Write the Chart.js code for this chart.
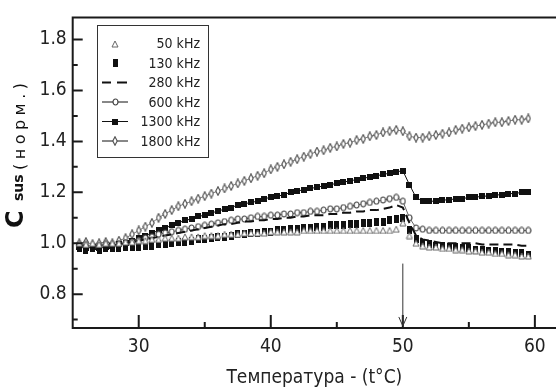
<!DOCTYPE html>
<html>
<head>
<meta charset="utf-8">
<script src="https://cdn.jsdelivr.net/npm/chart.js@4.4.1/dist/chart.umd.min.js"></script>
<style>
  html, body { margin: 0; padding: 0; background: #fff; }
  #wrap { position: relative; width: 556px; height: 389px; }
</style>
</head>
<body>
<div id="wrap"><canvas id="susChart"></canvas></div>
<script>
// temperature points, °C
const temps = [
  25.5, 26, 26.5, 27, 27.5, 28, 28.5, 29, 29.5, 30,
  30.5, 31, 31.5, 32, 32.5, 33, 33.5, 34, 34.5, 35,
  35.5, 36, 36.5, 37, 37.5, 38, 38.5, 39, 39.5, 40,
  40.5, 41, 41.5, 42, 42.5, 43, 43.5, 44, 44.5, 45,
  45.5, 46, 46.5, 47, 47.5, 48, 48.5, 49, 49.5, 50,
  50.5, 51, 51.5, 52, 52.5, 53, 53.5, 54, 54.5, 55,
  55.5, 56, 56.5, 57, 57.5, 58, 58.5, 59, 59.5
];

// normalised C_sus for each measuring frequency
const c50 = [
  1.00, 0.995, 1.00, 0.995, 1.00, 1.00, 1.00, 1.005, 1.005, 1.01,
  1.01, 1.015, 1.015, 1.02, 1.02, 1.02, 1.025, 1.025, 1.025, 1.03,
  1.03, 1.03, 1.035, 1.035, 1.035, 1.04, 1.04, 1.04, 1.04, 1.045,
  1.045, 1.045, 1.045, 1.045, 1.05, 1.05, 1.05, 1.05, 1.05, 1.05,
  1.05, 1.05, 1.05, 1.05, 1.05, 1.05, 1.05, 1.05, 1.055, 1.08,
  1.03, 1.00, 0.99, 0.985, 0.985, 0.98, 0.98, 0.975, 0.975, 0.97,
  0.97, 0.965, 0.965, 0.96, 0.96, 0.955, 0.955, 0.95, 0.95
];
const c130 = [
  0.98, 0.975, 0.98, 0.975, 0.98, 0.98, 0.98, 0.985, 0.985, 0.985,
  0.99, 0.99, 0.995, 0.995, 1.00, 1.005, 1.005, 1.01, 1.015, 1.015,
  1.02, 1.025, 1.025, 1.03, 1.035, 1.035, 1.04, 1.04, 1.045, 1.045,
  1.05, 1.05, 1.055, 1.055, 1.06, 1.06, 1.065, 1.065, 1.07, 1.07,
  1.07, 1.075, 1.075, 1.08, 1.08, 1.085, 1.085, 1.09, 1.095, 1.10,
  1.05, 1.015, 1.00, 0.995, 0.99, 0.99, 0.985, 0.985, 0.98, 0.98,
  0.975, 0.975, 0.97, 0.97, 0.965, 0.965, 0.96, 0.96, 0.955
];
const c280 = [
  0.99, 0.99, 0.99, 0.99, 0.99, 0.99, 0.995, 1.00, 1.005, 1.01,
  1.015, 1.02, 1.025, 1.03, 1.035, 1.04, 1.045, 1.05, 1.055, 1.06,
  1.065, 1.07, 1.075, 1.075, 1.08, 1.085, 1.085, 1.09, 1.09, 1.095,
  1.095, 1.10, 1.10, 1.105, 1.105, 1.11, 1.11, 1.11, 1.115, 1.115,
  1.12, 1.12, 1.125, 1.125, 1.13, 1.13, 1.135, 1.14, 1.15, 1.14,
  1.08, 1.03, 1.015, 1.01, 1.005, 1.00, 1.00, 1.00, 1.00, 1.00,
  1.00, 0.995, 0.995, 0.995, 0.995, 0.995, 0.995, 0.99, 0.99
];
const c600 = [
  0.99, 0.995, 0.985, 0.99, 0.995, 0.99, 0.995, 1.00, 1.005, 1.01,
  1.02, 1.025, 1.035, 1.04, 1.045, 1.05, 1.055, 1.06, 1.065, 1.07,
  1.075, 1.08, 1.085, 1.09, 1.095, 1.095, 1.10, 1.105, 1.105, 1.11,
  1.11, 1.115, 1.115, 1.12, 1.12, 1.125, 1.125, 1.13, 1.135, 1.135,
  1.14, 1.145, 1.15, 1.155, 1.16, 1.165, 1.17, 1.175, 1.18, 1.165,
  1.10, 1.06, 1.055, 1.05, 1.05, 1.05, 1.05, 1.05, 1.05, 1.05,
  1.05, 1.05, 1.05, 1.05, 1.05, 1.05, 1.05, 1.05, 1.05
];
const c1300 = [
  0.985, 0.98, 0.985, 0.98, 0.985, 0.99, 0.995, 1.00, 1.01, 1.02,
  1.03, 1.04, 1.05, 1.06, 1.07, 1.08, 1.09, 1.095, 1.105, 1.11,
  1.12, 1.125, 1.135, 1.14, 1.15, 1.155, 1.16, 1.165, 1.175, 1.18,
  1.185, 1.19, 1.20, 1.205, 1.21, 1.215, 1.22, 1.225, 1.23, 1.235,
  1.24, 1.245, 1.25, 1.255, 1.26, 1.265, 1.27, 1.275, 1.28, 1.285,
  1.23, 1.18, 1.165, 1.165, 1.165, 1.17, 1.17, 1.175, 1.175, 1.18,
  1.18, 1.185, 1.185, 1.19, 1.19, 1.195, 1.195, 1.20, 1.20
];
const c1800 = [
  1.00, 1.005, 0.995, 1.00, 1.005, 1.00, 1.01, 1.02, 1.035, 1.05,
  1.065, 1.08, 1.10, 1.115, 1.13, 1.145, 1.155, 1.165, 1.175, 1.185,
  1.195, 1.205, 1.215, 1.225, 1.235, 1.245, 1.255, 1.265, 1.275, 1.29,
  1.30, 1.31, 1.32, 1.33, 1.34, 1.35, 1.36, 1.365, 1.375, 1.38,
  1.39, 1.395, 1.405, 1.41, 1.42, 1.425, 1.435, 1.44, 1.445, 1.44,
  1.42, 1.415, 1.415, 1.42, 1.425, 1.43, 1.435, 1.445, 1.45, 1.455,
  1.46, 1.465, 1.47, 1.475, 1.475, 1.48, 1.485, 1.485, 1.49
];

const legendLabels = ['50 kHz', '130 kHz', '280 kHz', '600 kHz', '1300 kHz', '1800 kHz'];
const xTicks = [30, 40, 50, 60];
const xMinor = [35, 45, 55];
const yTicks = [0.8, 1.0, 1.2, 1.4, 1.6, 1.8];
const yMinor = [0.7, 0.9, 1.1, 1.3, 1.5, 1.7];
// transition marker
const arrowT = 50;
const arrowTop = 0.92;
const arrowTip = 0.675;

const FONT = "'DejaVu Sans Condensed', 'DejaVu Sans', sans-serif";

// small canvases used as point symbols
function marker(w, h, draw) {
  const c = document.createElement('canvas');
  c.width = w;
  c.height = h;
  draw(c.getContext('2d'), w, h);
  return c;
}
const triOpen = marker(8, 8, (g, w, h) => {
  g.beginPath();
  g.moveTo(w / 2, 1); g.lineTo(w - 1, h - 1); g.lineTo(1, h - 1); g.closePath();
  g.fillStyle = '#fff'; g.fill();
  g.strokeStyle = '#666'; g.lineWidth = 1; g.stroke();
});
const barFilled = marker(5, 8, (g, w, h) => {
  g.fillStyle = '#111'; g.fillRect(0, 0, w, h);
});
const sqFilled = marker(6, 6, (g, w, h) => {
  g.fillStyle = '#111'; g.fillRect(0, 0, w, h);
});
const ovalOpen = marker(7, 8, (g, w, h) => {
  g.beginPath();
  g.ellipse(w / 2, h / 2, w / 2 - 1, h / 2 - 1, 0, 0, Math.PI * 2);
  g.fillStyle = '#fff'; g.fill();
  g.strokeStyle = '#444'; g.lineWidth = 1.2; g.stroke();
});
const diamondOpen = marker(6, 10, (g, w, h) => {
  g.beginPath();
  g.moveTo(w / 2, 0.8); g.lineTo(w - 0.8, h / 2); g.lineTo(w / 2, h - 0.8); g.lineTo(0.8, h / 2); g.closePath();
  g.fillStyle = '#fff'; g.fill();
  g.strokeStyle = '#555'; g.lineWidth = 1.2; g.stroke();
});

function series(values) {
  return values.map((v, i) => ({ x: temps[i], y: v }));
}

const symbols = [triOpen, barFilled, null, ovalOpen, sqFilled, diamondOpen];

// axes box, inward ticks, arrow, legend and the rotated y title
const decorations = {
  id: 'decorations',
  afterDraw(chart) {
    const { ctx, chartArea: a, scales: { x, y } } = chart;
    ctx.save();
    ctx.strokeStyle = '#1a1a1a';
    ctx.lineWidth = 2;
    ctx.beginPath();
    ctx.moveTo(a.right, a.top); ctx.lineTo(a.left, a.top);
    ctx.lineTo(a.left, a.bottom); ctx.lineTo(a.right, a.bottom);
    ctx.stroke();

    ctx.beginPath();
    yTicks.forEach(v => { const p = y.getPixelForValue(v); ctx.moveTo(a.left, p); ctx.lineTo(a.left + 10, p); });
    yMinor.forEach(v => { const p = y.getPixelForValue(v); ctx.moveTo(a.left, p); ctx.lineTo(a.left + 5, p); });
    xTicks.forEach(v => { const p = x.getPixelForValue(v); ctx.moveTo(p, a.bottom); ctx.lineTo(p, a.bottom - 13); });
    xMinor.forEach(v => { const p = x.getPixelForValue(v); ctx.moveTo(p, a.bottom); ctx.lineTo(p, a.bottom - 6); });
    ctx.stroke();

    // arrow pointing down at the transition temperature
    const ax = x.getPixelForValue(arrowT);
    const ay0 = y.getPixelForValue(arrowTop);
    const ay1 = y.getPixelForValue(arrowTip);
    ctx.strokeStyle = '#333';
    ctx.lineWidth = 1;
    ctx.beginPath();
    ctx.moveTo(ax, ay0); ctx.lineTo(ax, ay1);
    ctx.moveTo(ax - 4, ay1 - 9); ctx.lineTo(ax, ay1); ctx.lineTo(ax + 4, ay1 - 9);
    ctx.stroke();

    // legend box
    ctx.fillStyle = '#fff';
    ctx.fillRect(97, 25, 111, 132);
    ctx.strokeStyle = '#333';
    ctx.lineWidth = 1;
    ctx.strokeRect(97.5, 25.5, 111, 132);
    ctx.font = '14px ' + FONT;
    ctx.textAlign = 'right';
    ctx.textBaseline = 'middle';
    legendLabels.forEach((label, i) => {
      const ry = 43.5 + i * 19.5;
      const cx = 115;
      ctx.strokeStyle = '#111';
      if (i === 2) {
        ctx.lineWidth = 2;
        ctx.beginPath();
        ctx.moveTo(102, ry); ctx.lineTo(111, ry);
        ctx.moveTo(117, ry); ctx.lineTo(127, ry);
        ctx.stroke();
      } else if (i >= 3) {
        ctx.lineWidth = 1;
        ctx.beginPath();
        ctx.moveTo(102, ry); ctx.lineTo(128, ry);
        ctx.stroke();
      }
      const s = symbols[i];
      if (s) ctx.drawImage(s, Math.round(cx - s.width / 2), Math.round(ry - s.height / 2));
      ctx.fillStyle = '#222';
      ctx.fillText(label, 200, ry + 1);
    });

    // y title: C_sus (норм.)
    ctx.translate(23, 228);
    ctx.rotate(-Math.PI / 2);
    ctx.textAlign = 'left';
    ctx.textBaseline = 'alphabetic';
    ctx.fillStyle = '#111';
    ctx.font = "bold 24px 'DejaVu Sans', sans-serif";
    ctx.fillText('C', 0, 0);
    ctx.font = "bold 14px 'DejaVu Sans', sans-serif";
    ctx.fillText('sus', 27, 0);
    ctx.font = "16px 'DejaVu Sans', sans-serif";
    const chars = [...'(норм.)'];
    const widths = chars.map(ch => ctx.measureText(ch).width);
    const gap = (87 - widths.reduce((s, w) => s + w, 0)) / (chars.length - 1);
    let px = 58;
    chars.forEach((ch, i) => { ctx.fillText(ch, px, 2); px += widths[i] + gap; });
    ctx.restore();
  }
};

Chart.defaults.font.family = FONT;
Chart.defaults.color = '#222';

new Chart(document.getElementById('susChart'), {
  type: 'line',
  data: {
    datasets: [
      {
        label: legendLabels[0], data: series(c50), showLine: false,
        pointStyle: triOpen, pointRadius: 4
      },
      {
        label: legendLabels[1], data: series(c130), showLine: false,
        pointStyle: barFilled, pointRadius: 4
      },
      {
        label: legendLabels[2], data: series(c280), borderColor: '#111', borderWidth: 2,
        borderDash: [9, 5], pointRadius: 0
      },
      {
        label: legendLabels[3], data: series(c600), borderColor: '#666', borderWidth: 1,
        pointStyle: ovalOpen, pointRadius: 4
      },
      {
        label: legendLabels[4], data: series(c1300), borderColor: '#111', borderWidth: 1,
        pointStyle: sqFilled, pointRadius: 4
      },
      {
        label: legendLabels[5], data: series(c1800), borderColor: '#777', borderWidth: 1,
        pointStyle: diamondOpen, pointRadius: 5
      }
    ]
  },
  options: {
    responsive: true,
    maintainAspectRatio: false,
    devicePixelRatio: 1,
    animation: false,
    layout: { autoPadding: false, padding: { top: 11, right: 0, bottom: 0, left: 0 } },
    plugins: {
      legend: { display: false },
      tooltip: { enabled: false }
    },
    scales: {
      x: {
        type: 'linear',
        min: 25,
        max: 61.6,
        afterBuildTicks: s => { s.ticks = xTicks.map(v => ({ value: v })); },
        afterFit: s => { s.height = 61; },
        grid: { display: false, drawTicks: false },
        border: { display: false },
        ticks: { padding: 8, color: '#222', font: { size: 19 } },
        title: {
          display: true,
          text: 'Температура - (t°C)',
          color: '#222',
          font: { size: 19 },
          padding: { top: 0, bottom: 0 }
        }
      },
      y: {
        min: 0.667,
        max: 1.887,
        afterBuildTicks: s => { s.ticks = yTicks.map(v => ({ value: v })); },
        afterFit: s => { s.width = 72.7; },
        grid: { display: false, drawTicks: false },
        border: { display: false },
        ticks: { padding: 6, color: '#222', font: { size: 19 }, callback: v => v.toFixed(1) }
      }
    }
  },
  plugins: [decorations]
});
</script>
</body>
</html>
